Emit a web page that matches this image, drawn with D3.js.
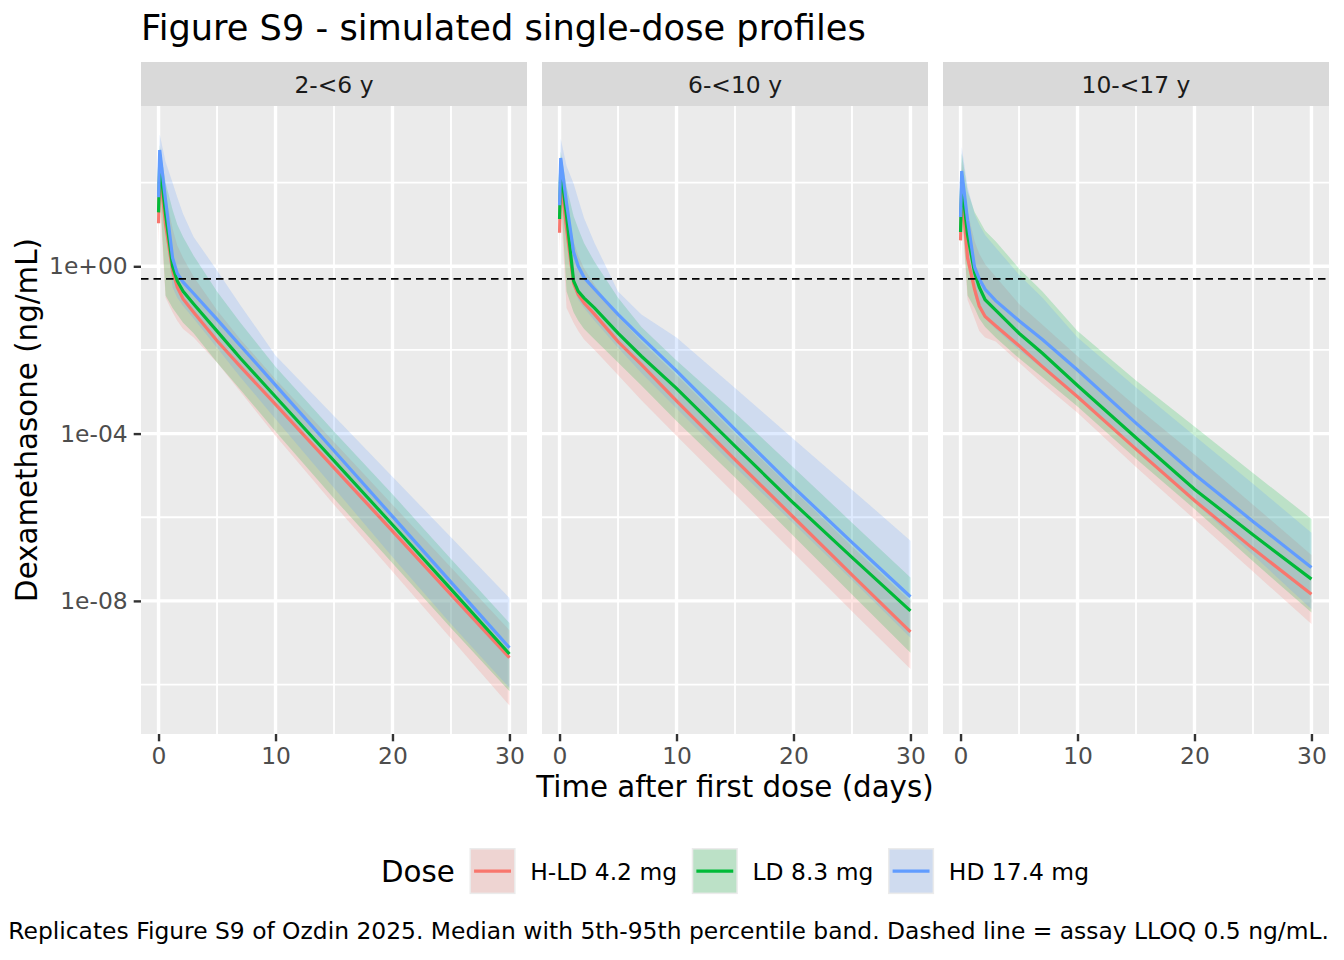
<!DOCTYPE html>
<html>
<head>
<meta charset="utf-8">
<script src="https://cdn.jsdelivr.net/npm/d3@7"></script>
<style>
body { margin: 0; background: #fff; }
svg text { font-family: "DejaVu Sans", sans-serif; }
</style>
</head>
<body>
<script>
// time grid (days) used for every simulated profile
var times = [0, 0.1, 0.6, 1.2, 1.6, 2.1, 3, 5, 7, 10, 15, 20, 25, 30];
var panels = ["2-<6 y", "6-<10 y", "10-<17 y"];
var doses = ["H-LD 4.2 mg", "LD 8.3 mg", "HD 17.4 mg"];
var doseColors = ["#F8766D", "#00BA38", "#619CFF"];
var xBreaks = [0, 10, 20, 30];
var xMinor = [5, 15, 25];
var yBreaks = [1e0, 1e-4, 1e-8];
var yTickLabels = ["1e+00", "1e-04", "1e-08"];
var yMinor = [1e2, 1e-2, 1e-6, 1e-10];
var lloq = 0.5;

// concentrations as log10(ng/mL)
// 2-<6 y
var p1_hld_med = [1.03, 2.3, 1.0, -0.1, -0.5, -0.78, -1.1, -1.78, -2.4, -3.3, -4.82, -6.33, -7.85, -9.36];
var p1_hld_p5  = [0.5, 1.6, -0.75, -1.1, -1.3, -1.5, -1.7, -2.3, -3.0, -4.05, -5.7, -7.3, -8.9, -10.5];
var p1_hld_p95 = [1.5, 2.7, 1.7, 0.9, 0.5, 0.2, -0.25, -1.05, -1.75, -2.7, -4.2, -5.7, -7.2, -8.7];
var p1_ld_med  = [1.29, 2.5, 1.25, 0.0, -0.35, -0.6, -0.9, -1.55, -2.2, -3.12, -4.65, -6.18, -7.72, -9.27];
var p1_ld_p5   = [0.8, 1.9, -0.7, -1.0, -1.15, -1.35, -1.6, -2.3, -2.95, -3.95, -5.55, -7.1, -8.65, -10.16];
var p1_ld_p95  = [1.8, 2.9, 2.0, 1.35, 1.0, 0.7, 0.25, -0.6, -1.35, -2.4, -3.95, -5.45, -7.0, -8.53];
var p1_hd_med  = [1.65, 2.78, 1.58, 0.2, -0.17, -0.38, -0.65, -1.27, -1.9, -2.84, -4.41, -5.98, -7.55, -9.12];
var p1_hd_p5   = [1.2, 2.3, 0.9, -0.5, -0.75, -0.95, -1.25, -1.95, -2.65, -3.65, -5.3, -6.95, -8.55, -10.08];
var p1_hd_p95  = [2.0, 3.15, 2.5, 2.0, 1.65, 1.25, 0.7, -0.1, -0.93, -2.13, -3.58, -5.03, -6.48, -7.93];
// 6-<10 y
var p2_hld_med = [0.8, 2.1, 0.9, -0.4, -0.68, -0.88, -1.15, -1.8, -2.35, -3.22, -4.62, -6.0, -7.38, -8.74];
var p2_hld_p5  = [0.3, 1.5, -1.0, -1.35, -1.55, -1.75, -2.0, -2.6, -3.2, -4.05, -5.45, -6.85, -8.25, -9.63];
var p2_hld_p95 = [1.3, 2.5, 1.5, 0.6, 0.25, -0.05, -0.45, -1.2, -1.8, -2.6, -4.0, -5.35, -6.7, -8.0];
var p2_ld_med  = [1.13, 2.35, 1.2, -0.35, -0.6, -0.76, -1.0, -1.6, -2.15, -2.92, -4.3, -5.66, -6.96, -8.24];
var p2_ld_p5   = [0.6, 1.8, -0.6, -1.1, -1.3, -1.5, -1.75, -2.3, -2.85, -3.7, -5.05, -6.45, -7.85, -9.24];
var p2_ld_p95  = [1.6, 2.75, 1.9, 1.2, 0.9, 0.55, 0.1, -0.75, -1.45, -2.25, -3.5, -4.81, -6.13, -7.44];
var p2_hd_med  = [1.46, 2.59, 1.5, 0.34, 0.0, -0.27, -0.55, -1.15, -1.7, -2.5, -3.9, -5.28, -6.6, -7.9];
var p2_hd_p5   = [1.0, 2.1, 0.7, -0.5, -0.8, -1.0, -1.3, -1.95, -2.55, -3.4, -4.8, -6.15, -7.5, -8.88];
var p2_hd_p95  = [1.9, 3.05, 2.4, 1.98, 1.6, 1.15, 0.55, -0.6, -1.15, -1.7, -2.91, -4.13, -5.34, -6.56];
// 10-<17 y
var p3_hld_med = [0.62, 1.85, 0.2, -0.55, -0.95, -1.2, -1.42, -1.9, -2.4, -3.12, -4.37, -5.6, -6.75, -7.84];
var p3_hld_p5  = [0.1, 1.3, -0.8, -1.25, -1.55, -1.7, -1.8, -2.3, -2.8, -3.5, -4.8, -6.05, -7.3, -8.55];
var p3_hld_p95 = [1.2, 2.5, 1.3, 0.6, 0.3, 0.05, -0.25, -0.9, -1.4, -2.15, -3.35, -4.5, -5.7, -6.9];
var p3_ld_med  = [0.82, 2.0, 0.75, -0.15, -0.5, -0.8, -1.05, -1.6, -2.08, -2.85, -4.1, -5.33, -6.42, -7.48];
var p3_ld_p5   = [0.3, 1.5, -0.7, -1.0, -1.25, -1.45, -1.7, -2.2, -2.65, -3.35, -4.6, -5.8, -7.05, -8.28];
var p3_ld_p95  = [1.5, 2.7, 1.8, 1.3, 1.1, 0.85, 0.6, -0.05, -0.6, -1.55, -2.73, -3.83, -4.94, -6.04];
var p3_hd_med  = [1.18, 2.28, 1.1, -0.02, -0.3, -0.55, -0.82, -1.3, -1.75, -2.48, -3.75, -4.97, -6.1, -7.2];
var p3_hd_p5   = [0.7, 1.8, 0.3, -0.7, -1.0, -1.25, -1.5, -2.0, -2.45, -3.15, -4.4, -5.65, -6.9, -8.2];
var p3_hd_p95  = [1.7, 2.85, 1.9, 1.25, 1.0, 0.75, 0.45, -0.2, -0.75, -1.7, -2.9, -4.05, -5.2, -6.37];

var series = [
    {panel: 0, dose: 0, med: p1_hld_med, lo: p1_hld_p5, hi: p1_hld_p95},
    {panel: 0, dose: 1, med: p1_ld_med, lo: p1_ld_p5, hi: p1_ld_p95},
    {panel: 0, dose: 2, med: p1_hd_med, lo: p1_hd_p5, hi: p1_hd_p95},
    {panel: 1, dose: 0, med: p2_hld_med, lo: p2_hld_p5, hi: p2_hld_p95},
    {panel: 1, dose: 1, med: p2_ld_med, lo: p2_ld_p5, hi: p2_ld_p95},
    {panel: 1, dose: 2, med: p2_hd_med, lo: p2_hd_p5, hi: p2_hd_p95},
    {panel: 2, dose: 0, med: p3_hld_med, lo: p3_hld_p5, hi: p3_hld_p95},
    {panel: 2, dose: 1, med: p3_ld_med, lo: p3_ld_p5, hi: p3_ld_p95},
    {panel: 2, dose: 2, med: p3_hd_med, lo: p3_hd_p5, hi: p3_hd_p95}
];

var width = 1344, height = 960;
var panelLeft = [141, 542, 943];
var pw = 386, panelTop = 106, ph = 628;
var stripTop = 62, stripH = 44;
var axisSize = 23.4, titleSize = 29.3;

// rows of {t, lo, mid, hi} in ng/mL
series.forEach(function(s) {
    s.rows = times.map(function(t, i) {
        return {t: t, lo: Math.pow(10, s.lo[i]), mid: Math.pow(10, s.med[i]), hi: Math.pow(10, s.hi[i])};
    });
});

var xMin = d3.min(times), xMax = d3.max(times);
var xPad = (xMax - xMin) * 0.05;
var xScale = d3.scaleLinear().domain([xMin - xPad, xMax + xPad]).range([0, pw]);

var lMin = d3.min(series, function(s) { return d3.min(s.lo); });
var lMax = d3.max(series, function(s) { return d3.max(s.hi); });
var lPad = (lMax - lMin) * 0.05;
var yScale = d3.scaleLog()
    .domain([Math.pow(10, lMin - lPad), Math.pow(10, lMax + lPad)])
    .range([ph, 0]);

var svg = d3.select("body").append("svg")
    .attr("width", width)
    .attr("height", height);

svg.append("text")
    .attr("x", 141).attr("y", 40)
    .style("font-size", "35.2px")
    .attr("fill", "#000")
    .text("Figure S9 - simulated single-dose profiles");

var area = d3.area()
    .x(function(d) { return xScale(d.t); })
    .y0(function(d) { return yScale(d.lo); })
    .y1(function(d) { return yScale(d.hi); });

var line = d3.line()
    .x(function(d) { return xScale(d.t); })
    .y(function(d) { return yScale(d.mid); });

panels.forEach(function(name, p) {
    var strip = svg.append("g").attr("transform", "translate(" + panelLeft[p] + "," + stripTop + ")");
    strip.append("rect").attr("width", pw).attr("height", stripH).attr("fill", "#D9D9D9");
    strip.append("text")
        .attr("x", pw / 2).attr("y", stripH / 2 + 8.6)
        .attr("text-anchor", "middle")
        .style("font-size", axisSize + "px")
        .attr("fill", "#1A1A1A")
        .text(name);

    var g = svg.append("g").attr("transform", "translate(" + panelLeft[p] + "," + panelTop + ")");
    g.append("rect").attr("width", pw).attr("height", ph).attr("fill", "#EBEBEB");

    g.selectAll(".ymin").data(yMinor).enter().append("line")
        .attr("x1", 0).attr("x2", pw)
        .attr("y1", function(d) { return yScale(d); })
        .attr("y2", function(d) { return yScale(d); })
        .attr("stroke", "#fff").attr("stroke-width", 1.8);
    g.selectAll(".xmin").data(xMinor).enter().append("line")
        .attr("y1", 0).attr("y2", ph)
        .attr("x1", function(d) { return xScale(d); })
        .attr("x2", function(d) { return xScale(d); })
        .attr("stroke", "#fff").attr("stroke-width", 1.8);
    g.selectAll(".ymaj").data(yBreaks).enter().append("line")
        .attr("x1", 0).attr("x2", pw)
        .attr("y1", function(d) { return yScale(d); })
        .attr("y2", function(d) { return yScale(d); })
        .attr("stroke", "#fff").attr("stroke-width", 3.4);
    g.selectAll(".xmaj").data(xBreaks).enter().append("line")
        .attr("y1", 0).attr("y2", ph)
        .attr("x1", function(d) { return xScale(d); })
        .attr("x2", function(d) { return xScale(d); })
        .attr("stroke", "#fff").attr("stroke-width", 3.4);

    var own = series.filter(function(s) { return s.panel == p; });
    g.selectAll(".band").data(own).enter().append("path")
        .attr("d", function(s) { return area(s.rows); })
        .attr("fill", function(s) { return doseColors[s.dose]; })
        .attr("fill-opacity", 0.2);
    g.selectAll(".med").data(own).enter().append("path")
        .attr("d", function(s) { return line(s.rows); })
        .attr("fill", "none")
        .attr("stroke", function(s) { return doseColors[s.dose]; })
        .attr("stroke-width", 3.2);

    g.append("line")
        .attr("x1", 0).attr("x2", pw)
        .attr("y1", yScale(lloq)).attr("y2", yScale(lloq))
        .attr("stroke", "#000").attr("stroke-width", 1.8)
        .attr("stroke-dasharray", "7.5,5");

    var xa = g.append("g")
        .attr("transform", "translate(0," + ph + ")")
        .call(d3.axisBottom(xScale).tickValues(xBreaks).tickSize(7.3).tickPadding(6));
    xa.select(".domain").remove();
    xa.selectAll("line").attr("stroke", "#333333").attr("stroke-width", 2.4);
    xa.selectAll("text").attr("fill", "#4D4D4D").style("font-size", axisSize + "px")
        .style("font-family", "DejaVu Sans");

    if (p == 0) {
        var ya = g.append("g")
            .call(d3.axisLeft(yScale).tickValues(yBreaks)
                .tickFormat(function(d, i) { return yTickLabels[i]; })
                .tickSize(7.3).tickPadding(6));
        ya.select(".domain").remove();
        ya.selectAll("line").attr("stroke", "#333333").attr("stroke-width", 2.4);
        ya.selectAll("text").attr("fill", "#4D4D4D").style("font-size", axisSize + "px")
            .style("font-family", "DejaVu Sans");
    }
});

svg.append("text")
    .attr("x", (panelLeft[0] + panelLeft[2] + pw) / 2).attr("y", 797)
    .attr("text-anchor", "middle")
    .style("font-size", titleSize + "px")
    .text("Time after first dose (days)");

svg.append("text")
    .attr("transform", "translate(37," + (panelTop + ph / 2) + ") rotate(-90)")
    .attr("text-anchor", "middle")
    .style("font-size", titleSize + "px")
    .text("Dexamethasone (ng/mL)");

// legend
var key = 46.1, gap = 14.7, legY = 848;
var leg = svg.append("g");
var legTitle = leg.append("text")
    .attr("x", 0).attr("y", legY + key / 2 + 10.7)
    .style("font-size", titleSize + "px")
    .text("Dose");
var cx = legTitle.node().getComputedTextLength() + gap;
doses.forEach(function(d, i) {
    leg.append("rect").attr("x", cx).attr("y", legY).attr("width", key).attr("height", key).attr("fill", "#EBEBEB");
    leg.append("rect").attr("x", cx + 1.5).attr("y", legY + 1.5).attr("width", key - 3).attr("height", key - 3)
        .attr("fill", doseColors[i]).attr("fill-opacity", 0.2);
    leg.append("line")
        .attr("x1", cx + 4.6).attr("x2", cx + key - 4.6)
        .attr("y1", legY + key / 2).attr("y2", legY + key / 2)
        .attr("stroke", doseColors[i]).attr("stroke-width", 3.2);
    var t = leg.append("text")
        .attr("x", cx + key + gap).attr("y", legY + key / 2 + 8.6)
        .style("font-size", axisSize + "px")
        .text(d);
    cx += key + gap + t.node().getComputedTextLength() + gap;
});
var legW = cx - gap;
leg.attr("transform", "translate(" + ((panelLeft[0] + panelLeft[2] + pw) / 2 - legW / 2) + ",0)");

svg.append("text")
    .attr("x", 1329).attr("y", 939)
    .attr("text-anchor", "end")
    .style("font-size", axisSize + "px")
    .text("Replicates Figure S9 of Ozdin 2025. Median with 5th-95th percentile band. Dashed line = assay LLOQ 0.5 ng/mL.");
</script>
</body>
</html>
